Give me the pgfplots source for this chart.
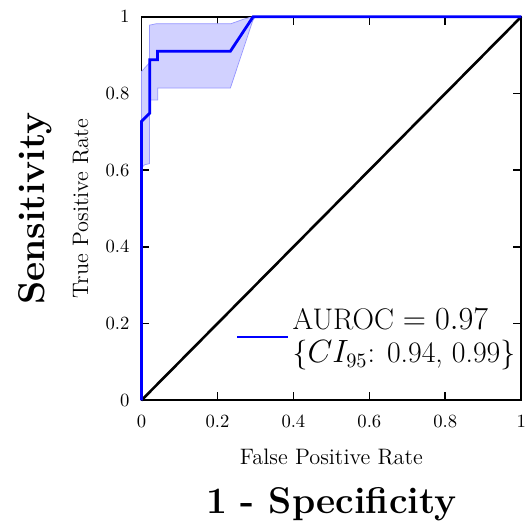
\documentclass[border=0pt]{standalone}
\usepackage{pgfplots}
\pgfplotsset{compat=1.18}
\begin{document}
\begin{tikzpicture}
\begin{axis}[
  width=204pt, height=206pt, scale only axis,
  xmin=0, xmax=1, ymin=0, ymax=1,
  xtick={0,0.2,0.4,0.6,0.8,1}, ytick={0,0.2,0.4,0.6,0.8,1},
  tick align=inside,
  xticklabel style={yshift=-4.5pt},
  yticklabel style={xshift=-3pt},
  axis line style={line width=0.9pt},
  major tick style={line width=0.9pt,black},
  xlabel={False Positive Rate},
  ylabel={True Positive Rate},
  label style={font=\large},
  xlabel style={at={(axis description cs:0.5,-0.149)}, anchor=center},
  ylabel style={at={(axis description cs:-0.16,0.5)}, anchor=center},
  clip=false,
  legend style={draw=none, fill=none, font=\fontsize{16}{18}\selectfont,
    at={(1.0,0.165)}, anchor=east, inner sep=1pt, cells={align=left}},
  legend image code/.code={\draw[#1] (0pt,0pt) -- (27pt,0pt);},
]
%% 95% CI band
\addplot[fill=blue!18, draw=blue!40, thin, forget plot] coordinates {
  (0,0.857) (0.021,0.88) (0.021,0.978) (0.04,0.982) (0.236,0.982) (0.27,0.994) (0.293,1)
  (0.30,1) (0.293,0.99) (0.234,0.814) (0.043,0.814) (0.043,0.783) (0.021,0.783)
  (0.021,0.617) (0.008,0.614) (0,0.606)
} -- cycle;
%% chance line
\addplot[black, line width=1.4pt, forget plot] coordinates {(0,0) (1,1)};
%% ROC curve
\addplot[blue, line width=1.5pt] coordinates {
  (0,0) (0,0.727) (0.022,0.749) (0.022,0.888) (0.042,0.888) (0.042,0.91)
  (0.234,0.91) (0.294,1) (1,1)
};
\addlegendentry{AUROC $=0.97$\\\{$CI_{95}$: 0.94, 0.99\}}
\node[font=\fontsize{20}{24}\bfseries\selectfont] at (axis description cs:0.5,-0.271) {1 - Specificity};
\node[font=\fontsize{20}{24}\bfseries\selectfont, rotate=90] at (axis description cs:-0.28,0.5) {Sensitivity};
\end{axis}
\pgfresetboundingbox
\path[use as bounding box] ([xshift=-76pt,yshift=-66pt]current axis.south west)
  rectangle ([xshift=2pt,yshift=9pt]current axis.north east);
\end{tikzpicture}
\end{document}
